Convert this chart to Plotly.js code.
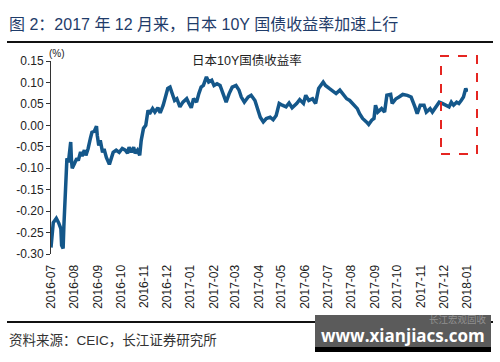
<!DOCTYPE html>
<html>
<head>
<meta charset="utf-8">
<script src="https://cdn.plot.ly/plotly-3.0.1.min.js"></script>
<style>html,body{margin:0;padding:0;background:#fff;}#chart{width:500px;height:362px;}</style>
</head>
<body>
<div id="chart"></div>
<script>
var dates = [
"2016-07-01","2016-07-02","2016-07-04","2016-07-06","2016-07-08","2016-07-11","2016-07-14","2016-07-15","2016-07-17","2016-07-18",
"2016-07-20","2016-07-21","2016-07-22","2016-07-24","2016-07-25","2016-07-27","2016-07-28","2016-07-29","2016-08-01","2016-08-04",
"2016-08-06","2016-08-09","2016-08-11","2016-08-14","2016-08-16","2016-08-19","2016-08-22","2016-08-24","2016-08-27","2016-08-30",
"2016-08-31","2016-09-02","2016-09-04","2016-09-07","2016-09-09","2016-09-12","2016-09-16","2016-09-18","2016-09-21","2016-09-25",
"2016-09-29","2016-10-03","2016-10-07","2016-10-10","2016-10-12","2016-10-15","2016-10-18","2016-10-20","2016-10-23","2016-10-26",
"2016-10-28","2016-10-31","2016-11-03","2016-11-06","2016-11-08","2016-11-12","2016-11-15","2016-11-19","2016-11-22","2016-11-26",
"2016-11-29","2016-12-02","2016-12-05","2016-12-08","2016-12-11","2016-12-14","2016-12-18","2016-12-22","2016-12-27","2016-12-30",
"2017-01-02","2017-01-05","2017-01-09","2017-01-12","2017-01-15","2017-01-18","2017-01-22","2017-01-25","2017-01-29","2017-02-01",
"2017-02-05","2017-02-09","2017-02-13","2017-02-17","2017-02-21","2017-02-25","2017-03-02","2017-03-06","2017-03-09","2017-03-13",
"2017-03-18","2017-03-22","2017-03-27","2017-03-31","2017-04-03","2017-04-07","2017-04-11","2017-04-16","2017-04-20","2017-04-24",
"2017-04-28","2017-05-02","2017-05-07","2017-05-11","2017-05-15","2017-05-21","2017-05-25","2017-05-30","2017-06-02","2017-06-06",
"2017-06-11","2017-06-15","2017-06-19","2017-06-25","2017-06-28","2017-07-03","2017-07-08","2017-07-12","2017-07-17","2017-07-21",
"2017-07-26","2017-07-30","2017-08-04","2017-08-09","2017-08-12","2017-08-16","2017-08-21","2017-08-24","2017-08-28","2017-08-31",
"2017-09-02","2017-09-05","2017-09-10","2017-09-14","2017-09-17","2017-09-22","2017-09-24","2017-09-29","2017-10-03","2017-10-08",
"2017-10-14","2017-10-19","2017-10-24","2017-10-27","2017-10-31","2017-11-05","2017-11-08","2017-11-13","2017-11-16","2017-11-21",
"2017-11-25","2017-11-29","2017-12-04","2017-12-08","2017-12-11","2017-12-14","2017-12-18","2017-12-21","2017-12-24","2017-12-27",
"2017-12-30","2018-01-01"
];
var yields = [
-0.285,-0.262,-0.227,-0.222,-0.217,-0.227,-0.241,-0.280,-0.287,-0.234,
-0.152,-0.082,-0.077,-0.086,-0.070,-0.039,-0.082,-0.100,-0.089,-0.077,
-0.082,-0.062,-0.072,-0.058,-0.070,-0.054,-0.030,-0.016,-0.014,-0.002,
-0.023,-0.047,-0.035,-0.063,-0.055,-0.075,-0.091,-0.077,-0.063,-0.058,
-0.063,-0.054,-0.058,-0.065,-0.051,-0.063,-0.051,-0.065,-0.058,-0.070,
-0.035,-0.007,0.000,0.035,0.027,0.039,0.031,0.041,0.029,0.047,
0.066,0.086,0.089,0.074,0.058,0.062,0.043,0.054,0.062,0.051,
0.041,0.062,0.054,0.074,0.089,0.093,0.113,0.101,0.105,0.093,
0.097,0.093,0.074,0.054,0.074,0.089,0.093,0.082,0.066,0.054,
0.066,0.070,0.058,0.035,0.019,0.008,0.016,0.019,0.013,0.023,
0.051,0.047,0.043,0.052,0.041,0.051,0.060,0.051,0.070,0.058,
0.062,0.051,0.086,0.101,0.093,0.086,0.078,0.074,0.082,0.074,
0.062,0.058,0.047,0.039,0.027,0.016,0.008,0.002,0.012,0.016,
0.047,0.031,0.039,0.031,0.070,0.072,0.051,0.062,0.066,0.072,
0.070,0.066,0.043,0.027,0.047,0.047,0.031,0.039,0.031,0.043,
0.054,0.051,0.047,0.043,0.054,0.047,0.054,0.051,0.058,0.066,
0.086,0.078
];
var yTickVals = [-0.30,-0.25,-0.20,-0.15,-0.10,-0.05,0.00,0.05,0.10,0.15];
var yTickText = ["-0.30","-0.25","-0.20","-0.15","-0.10","-0.05","0.00","0.05","0.10","0.15"];
var seriesName = "日本10Y国债收益率";
var titleText = "图 2：2017 年 12 月来，日本 10Y 国债收益率加速上行";
var sourceText = "资料来源：CEIC，长江证券研究所";

var W = 500, H = 362, L = 51, R = 32, T = 61, B = 108;
var pw = W - L - R, ph = H - T - B;
function px(x){ return (x - L) / pw; }
function py(y){ return (H - B - y) / ph; }

var fontLat = "Liberation Sans, Arial, Noto Sans CJK SC, sans-serif";
var fontCJK = "Liberation Sans, Noto Sans CJK SC, sans-serif";

var trace = {
  x: dates, y: yields, type: 'scatter', mode: 'lines', name: seriesName,
  line: {color: '#14578a', width: 3.5}, showlegend: false, hoverinfo: 'skip'
};

var xr = ['2016-07-01', '2018-01-02'];

var layout = {
  width: W, height: H,
  margin: {l: L, r: R, t: T, b: B, pad: 0},
  paper_bgcolor: '#fff', plot_bgcolor: '#fff',
  showlegend: false,
  font: {family: fontLat, size: 12, color: '#222'},
  xaxis: {
    type: 'date', range: xr, tick0: '2016-07-01', dtick: 'M1', tickformat: '%Y-%m',
    tickangle: -90, showgrid: false, zeroline: false, showline: false,
    ticks: 'outside', ticklen: 5, tickcolor: 'rgba(0,0,0,0)',
    tickfont: {family: fontLat, size: 12, color: '#222'}
  },
  xaxis2: {
    type: 'date', range: xr, tick0: '2016-07-01', dtick: 'M1', overlaying: 'x',
    anchor: 'free', position: 0.3/0.45, showgrid: false, zeroline: false,
    showline: true, linecolor: '#333', linewidth: 1, ticks: 'outside', ticklen: 4,
    tickcolor: '#333', showticklabels: false
  },
  yaxis: {
    range: [-0.30, 0.15], tickvals: yTickVals, ticktext: yTickText,
    showgrid: false, zeroline: false, showline: true, linecolor: '#333', linewidth: 1,
    ticks: 'outside', ticklen: 4, tickcolor: '#333',
    tickfont: {family: fontLat, size: 12, color: '#222'}
  },
  shapes: [
    {type: 'line', xref: 'paper', yref: 'paper', x0: px(7), x1: px(493), y0: py(42), y1: py(42), line: {color: '#111', width: 2}},
    {type: 'line', xref: 'paper', yref: 'paper', x0: px(7), x1: px(493), y0: py(322), y1: py(322), line: {color: '#111', width: 2}},
    {type: 'rect', xref: 'paper', yref: 'paper', x0: px(441), x1: px(477), y0: py(154), y1: py(56), line: {color: '#e52521', width: 2, dash: 'dash'}},
    {type: 'rect', xref: 'paper', yref: 'paper', x0: px(315), x1: px(491), y0: py(352), y1: py(315), fillcolor: '#5b5b5b', line: {width: 0}, layer: 'above'},
    {type: 'rect', xref: 'paper', yref: 'paper', x0: px(315), x1: px(491), y0: py(352), y1: py(347), fillcolor: '#000', line: {width: 0}, layer: 'above'}
  ],
  annotations: [
    {text: titleText, xref: 'paper', yref: 'paper', x: px(7), y: py(24), xanchor: 'left', yanchor: 'middle', showarrow: false,
     font: {family: fontCJK, size: 16, color: '#1f3c6a'}},
    {text: '(%)', xref: 'paper', yref: 'paper', x: px(47), y: py(53), xanchor: 'left', yanchor: 'middle', showarrow: false,
     font: {family: fontLat, size: 10, color: '#222'}},
    {text: seriesName, xref: 'paper', yref: 'paper', x: px(247), y: py(60), xanchor: 'center', yanchor: 'middle', showarrow: false,
     font: {family: fontCJK, size: 12.5, color: '#222'}},
    {text: sourceText, xref: 'paper', yref: 'paper', x: px(7), y: py(340), xanchor: 'left', yanchor: 'middle', showarrow: false,
     font: {family: fontCJK, size: 13.5, color: '#333'}},
    {text: '长江宏观固收', xref: 'paper', yref: 'paper', x: px(489), y: py(319), xanchor: 'right', yanchor: 'middle', showarrow: false,
     font: {family: fontCJK, size: 9.5, color: 'rgba(170,170,170,0.7)'}},
    {text: '<b>www.xianjiacs.com</b>', xref: 'paper', yref: 'paper', x: px(403), y: py(335), xanchor: 'center', yanchor: 'middle', showarrow: false,
     font: {family: 'Open Sans, DejaVu Sans, sans-serif', size: 17, color: '#fff'}}
  ]
};

Plotly.newPlot('chart', [trace], layout, {staticPlot: true, displayModeBar: false});
</script>
</body>
</html>
